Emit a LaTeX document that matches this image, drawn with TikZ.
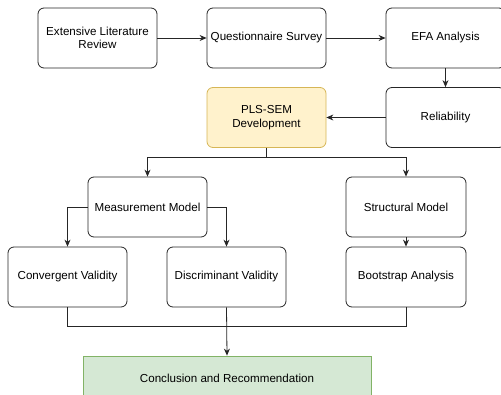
\documentclass[tikz,border=0pt]{standalone}
\usepackage{fontspec}
\setmainfont{Liberation Sans}
\usetikzlibrary{arrows.meta,positioning}
\definecolor{ylwfill}{HTML}{FFF2CC}
\definecolor{ylwdraw}{HTML}{D6B656}
\definecolor{grnfill}{HTML}{D5E8D4}
\definecolor{grndraw}{HTML}{82B366}
\begin{document}
\begin{tikzpicture}[x=1pt,y=-1pt,
  box/.style={draw=black!85,line width=0.8pt,rounded corners=6pt,fill=white,
    minimum width=119pt,minimum height=60pt,align=center,inner sep=1pt,
    font=\fontsize{11.6}{13.5}\selectfont},
  arr/.style={draw=black!85,line width=0.8pt,-{Stealth[length=7pt,width=6pt]}},
  ln/.style={draw=black!85,line width=0.8pt}]
\useasboundingbox (0,0) rectangle (501,395);
\clip (0,0) rectangle (501,395);
\node[box] (elr) at (97.5,38) {Extensive Literature\\Review};
\node[box] (qs) at (266.5,38) {Questionnaire Survey};
\node[box] (efa) at (445.5,38) {EFA Analysis};
\node[box,fill=ylwfill,draw=ylwdraw] (pls) at (266.5,117.5) {PLS-SEM\\Development};
\node[box] (rel) at (445.5,117.5) {Reliability};
\node[box] (mm) at (147.5,207) {Measurement Model};
\node[box,minimum width=120pt] (sm) at (406,207) {Structural Model};
\node[box] (cv) at (67.5,277) {Convergent Validity};
\node[box] (dv) at (226.5,277) {Discriminant Validity};
\node[box,minimum width=120pt] (ba) at (406,277) {Bootstrap Analysis};
\node[box,rounded corners=0pt,fill=grnfill,draw=grndraw,minimum width=288pt,minimum height=44pt] (cr) at (227,378) {Conclusion and Recommendation};
\coordinate (split) at (266.5,157);
\coordinate (merge) at (226.5,326);
\draw[arr] (elr.east) -- (qs.west);
\draw[arr] (qs.east) -- (efa.west);
\draw[arr] (efa.south) -- (rel.north);
\draw[arr] (rel.west) -- (pls.east);
\draw[ln] (pls.south) -- (split);
\draw[arr] (split) -| (mm.north);
\draw[arr] (split) -| (sm.north);
\draw[arr] (mm.west) -| (cv.north);
\draw[arr] (mm.east) -| (dv.north);
\draw[arr] (sm.south) -- (ba.north);
\draw[ln] (cv.south) |- (merge);
\draw[ln] (ba.south) |- (merge);
\draw[arr] (dv.south) -- (cr.north);
\end{tikzpicture}
\end{document}
